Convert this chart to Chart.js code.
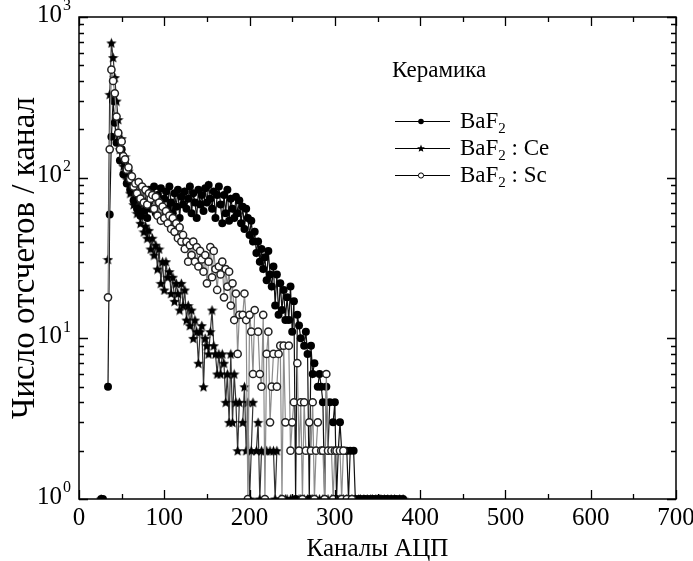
<!DOCTYPE html>
<html>
<head>
<meta charset="utf-8">
<script src="https://cdn.jsdelivr.net/npm/chart.js@4.4.0/dist/chart.umd.min.js"></script>
<style>
  html, body { margin: 0; padding: 0; background: #fff; }
  canvas { display: block; }
</style>
</head>
<body>
<canvas id="spectrum" width="693" height="561"></canvas>
<script>
// номера каналов АЦП (шаг 2)
const channels = [
  26, 28, 30, 32, 34, 36, 38, 40, 42, 44,
  46, 48, 50, 52, 54, 56, 58, 60, 62, 64,
  66, 68, 70, 72, 74, 76, 78, 80, 82, 84,
  86, 88, 90, 92, 94, 96, 98, 100, 102, 104,
  106, 108, 110, 112, 114, 116, 118, 120, 122, 124,
  126, 128, 130, 132, 134, 136, 138, 140, 142, 144,
  146, 148, 150, 152, 154, 156, 158, 160, 162, 164,
  166, 168, 170, 172, 174, 176, 178, 180, 182, 184,
  186, 188, 190, 192, 194, 196, 198, 200, 202, 204,
  206, 208, 210, 212, 214, 216, 218, 220, 222, 224,
  226, 228, 230, 232, 234, 236, 238, 240, 242, 244,
  246, 248, 250, 252, 254, 256, 258, 260, 262, 264,
  266, 268, 270, 272, 274, 276, 278, 280, 282, 284,
  286, 288, 290, 292, 294, 296, 298, 300, 302, 304,
  306, 308, 310, 312, 314, 316, 318, 320, 322, 324,
  326, 328, 330, 332, 334, 336, 338, 340, 342, 344,
  346, 348, 350, 352, 354, 356, 358, 360, 362, 364,
  366, 368, 370, 372, 374, 376, 378, 380, 382, 384
];

// BaF2
const countsBaF2 = [
  1, 1, 0, 0, 5, 59, 180, 300, 220, 165,
  190, 128, 150, 105, 122, 92, 108, 84, 96, 72,
  86, 64, 78, 58, 74, 62, 80, 56, 84, 64,
  72, 88, 60, 78, 68, 86, 58, 74, 82, 64,
  88, 70, 60, 80, 66, 84, 56, 76, 68, 82,
  64, 74, 88, 60, 80, 70, 56, 84, 68, 78,
  62, 86, 70, 90, 74, 64, 82, 56, 78, 88,
  68, 52, 78, 60, 84, 54, 74, 64, 56, 76,
  60, 72, 52, 66, 48, 64, 56, 44, 54, 40,
  46, 34, 40, 30, 36, 27, 32, 23, 35, 25,
  21, 28, 16, 25, 14, 22, 15, 20, 13, 18,
  13, 21, 11, 17, 1, 14, 12, 10, 0, 9,
  11, 8, 1, 9, 6, 7, 0, 5, 6, 5,
  4, 1, 5, 2, 4, 0, 3, 4, 1, 2,
  3, 2, 0, 2, 2, 1, 2, 0, 2, 1,
  0, 1, 1, 0, 1, 1, 0, 1, 0, 1,
  1, 0, 1, 1, 0, 1, 0, 1, 1, 0,
  1, 0, 1, 1, 0, 1, 0, 1, 0, 0
];

// BaF2:Ce
const countsBaF2Ce = [
  1, 0, 0, 0, 31, 330, 690, 560, 420, 300,
  230, 150, 175, 118, 135, 98, 110, 80, 92, 68,
  74, 60, 66, 52, 58, 46, 50, 42, 47, 36,
  42, 33, 38, 27, 36, 22, 30, 20, 30, 24,
  26, 19, 24, 17, 22, 19, 15, 22, 16, 20,
  13, 16, 12, 15, 10, 13, 11, 7, 11, 12,
  5, 10, 9, 8, 11, 15, 9, 8, 6, 8,
  6, 8, 7, 4, 6, 3, 8, 3, 6, 4,
  2, 4, 0, 3, 5, 2, 4, 1, 2, 4,
  0, 2, 3, 1, 2, 0, 2, 2, 0, 2,
  0, 2, 1, 2, 0, 1, 1, 0, 1, 1,
  0, 1, 1, 0, 1, 0, 1, 1, 0, 1,
  0, 1, 0, 1, 1, 0, 1, 0, 1, 0,
  1, 1, 0, 1, 0, 1, 1, 0, 1, 0,
  1, 0, 1, 0, 1, 1, 0, 1, 0, 1,
  0, 1, 1, 0, 1, 0, 1, 0, 1, 1,
  0, 1, 0, 1, 1, 0, 1, 0, 1, 0,
  1, 0, 1, 0, 0, 1, 0, 1, 0, 0
];

// BaF2:Sc (null — канал без данных)
const countsBaF2Sc = [
  null, null, null, 0, 18, 150, 470, 400, 335, 240,
  190, 150, 168, 136, 130, 112, 116, 98, 102, 88,
  92, 80, 94, 74, 88, 70, 84, 68, 80, 74,
  78, 64, 76, 58, 70, 54, 66, 56, 62, 52,
  58, 48, 56, 46, 52, 42, 49, 40, 44, 36,
  40, 30, 38, 33, 40, 30, 37, 28, 35, 31,
  26, 33, 22, 30, 37, 24, 35, 27, 20, 28,
  25, 30, 18, 27, 21, 26, 16, 22, 13, 19,
  8, 14, 0, 14, 19, 13, 1, 14, 11, 6,
  15, 0, 11, 6, 5, 14, 1, 8, 11, 3,
  5, 8, 0, 5, 8, 9, 1, 9, 3, 0,
  9, 2, 3, 4, 0, 7, 2, 4, 1, 4,
  2, 0, 3, 2, 4, 1, 2, 3, 0, 2,
  2, 1, 6, 2, 0, 2, 1, 2, 2, 0,
  2, 1, 2, 0, 1, 0, 0, 1, 0, 0,
  null, null, null, null, null, null, null, null, null, null,
  null, null, null, null, null, null, null, null, null, null,
  null, null, null, null, null, null, null, null, null, null
];

const xTicks = [0, 100, 200, 300, 400, 500, 600, 700];
const xMinorTicks = [50, 150, 250, 350, 450, 550, 650];
const yTicks = [1, 10, 100, 1000];
const yTickPowers = ['0', '1', '2', '3'];

const FONT = '"Liberation Serif", "Times New Roman", serif';

// закрашенная звёздочка для BaF2:Ce
function makeStar(size) {
  const c = document.createElement('canvas');
  c.width = c.height = size;
  const g = c.getContext('2d');
  const r = size / 2, ri = r * 0.45;
  g.beginPath();
  for (let i = 0; i < 10; i++) {
    const a = -Math.PI / 2 + i * Math.PI / 5;
    const rr = i % 2 ? ri : r;
    g.lineTo(r + rr * Math.cos(a), r + 0.6 + rr * Math.sin(a));
  }
  g.closePath();
  g.fillStyle = '#000';
  g.fill();
  return c;
}
const star = makeStar(11);
const starSmall = makeStar(8);

function toPoints(values) {
  return channels.map((c, i) => ({ x: c, y: values[i] }));
}

// рамка, засечки внутрь, подписи осей и легенда
const framePlugin = {
  id: 'frame',
  afterDatasetsDraw(chart) {
    const { ctx, chartArea: a, scales: { x, y } } = chart;
    ctx.save();
    ctx.strokeStyle = '#000';
    ctx.lineWidth = 1.5;
    ctx.strokeRect(a.left, a.top, a.right - a.left, a.bottom - a.top);

    ctx.lineWidth = 1.3;
    ctx.beginPath();
    xTicks.concat(xMinorTicks).forEach(v => {
      const px = Math.round(x.getPixelForValue(v)) + 0.5;
      const len = xTicks.includes(v) ? 9 : 5;
      ctx.moveTo(px, a.bottom); ctx.lineTo(px, a.bottom - len);
      ctx.moveTo(px, a.top); ctx.lineTo(px, a.top + len);
    });
    yTicks.forEach((d, k) => {
      const py = Math.round(y.getPixelForValue(d)) + 0.5;
      ctx.moveTo(a.left, py); ctx.lineTo(a.left + 9, py);
      ctx.moveTo(a.right, py); ctx.lineTo(a.right - 9, py);
      if (k === yTicks.length - 1) return;
      for (let m = 2; m <= 9; m++) {
        const pm = Math.round(y.getPixelForValue(d * m)) + 0.5;
        ctx.moveTo(a.left, pm); ctx.lineTo(a.left + 5, pm);
        ctx.moveTo(a.right, pm); ctx.lineTo(a.right - 5, pm);
      }
    });
    ctx.stroke();

    ctx.fillStyle = '#000';
    ctx.font = '25px ' + FONT;
    ctx.textAlign = 'center';
    ctx.textBaseline = 'top';
    xTicks.forEach(v => ctx.fillText(String(v), x.getPixelForValue(v), a.bottom + 7));

    yTicks.forEach((d, k) => {
      const py = y.getPixelForValue(d);
      ctx.font = '25px ' + FONT;
      ctx.textAlign = 'right';
      ctx.textBaseline = 'middle';
      ctx.fillText('10', 62, py - 2);
      ctx.font = '16px ' + FONT;
      ctx.textAlign = 'left';
      ctx.fillText(yTickPowers[k], 63, py - 11);
    });

    ctx.font = '25px ' + FONT;
    ctx.textAlign = 'center';
    ctx.textBaseline = 'alphabetic';
    ctx.fillText('Каналы АЦП', (a.left + a.right) / 2, 556);

    ctx.save();
    ctx.font = '33px ' + FONT;
    ctx.translate(34, (a.top + a.bottom) / 2);
    ctx.rotate(-Math.PI / 2);
    ctx.fillText('Число отсчетов / канал', 0, 0);
    ctx.restore();

    // легенда
    ctx.font = '23px ' + FONT;
    ctx.textAlign = 'left';
    ctx.fillText('Керамика', 392, 77);
    const rows = [
      { y: 121, tail: '', draw: (cx, cy) => { ctx.beginPath(); ctx.arc(cx, cy, 2.8, 0, Math.PI * 2); ctx.fillStyle = '#000'; ctx.fill(); } },
      { y: 148, tail: ' : Ce', draw: (cx, cy) => ctx.drawImage(starSmall, cx - 4, cy - 4.5) },
      { y: 175, tail: ' : Sc', draw: (cx, cy) => { ctx.beginPath(); ctx.arc(cx, cy, 2.6, 0, Math.PI * 2); ctx.fillStyle = '#fff'; ctx.fill(); ctx.lineWidth = 1; ctx.strokeStyle = '#000'; ctx.stroke(); } }
    ];
    rows.forEach(r => {
      ctx.strokeStyle = '#000';
      ctx.lineWidth = 1.2;
      ctx.beginPath();
      ctx.moveTo(395, r.y + 0.5); ctx.lineTo(450, r.y + 0.5);
      ctx.stroke();
      r.draw(421, r.y + 0.5);
      ctx.fillStyle = '#000';
      ctx.font = '23px ' + FONT;
      ctx.fillText('BaF', 460, r.y + 7);
      let w = 460 + ctx.measureText('BaF').width;
      ctx.font = '15px ' + FONT;
      ctx.fillText('2', w, r.y + 12);
      w += ctx.measureText('2').width;
      if (r.tail) {
        ctx.font = '23px ' + FONT;
        ctx.fillText(r.tail, w, r.y + 7);
      }
    });
    ctx.restore();
  }
};

new Chart(document.getElementById('spectrum'), {
  type: 'line',
  data: {
    datasets: [
      {
        label: 'BaF2:Sc',
        data: toPoints(countsBaF2Sc),
        borderColor: '#8c8c8c',
        borderWidth: 1.2,
        pointRadius: 3.6,
        pointBackgroundColor: '#fff',
        pointBorderColor: '#222',
        pointBorderWidth: 1.5,
        order: 0
      },
      {
        label: 'BaF2',
        data: toPoints(countsBaF2),
        borderColor: '#111',
        borderWidth: 1.2,
        pointRadius: 4,
        pointBackgroundColor: '#000',
        pointBorderColor: '#000',
        pointBorderWidth: 0,
        order: 1
      },
      {
        label: 'BaF2:Ce',
        data: toPoints(countsBaF2Ce),
        borderColor: '#333',
        borderWidth: 1.2,
        pointStyle: star,
        order: 2
      }
    ]
  },
  options: {
    responsive: false,
    animation: false,
    events: [],
    layout: { padding: { left: 79, top: 17, right: 17, bottom: 62 } },
    plugins: { legend: { display: false }, tooltip: { enabled: false } },
    scales: {
      x: { type: 'linear', min: 0, max: 700, display: false },
      y: { type: 'logarithmic', min: 1, max: 1000, display: false }
    }
  },
  plugins: [framePlugin]
});
</script>
</body>
</html>
